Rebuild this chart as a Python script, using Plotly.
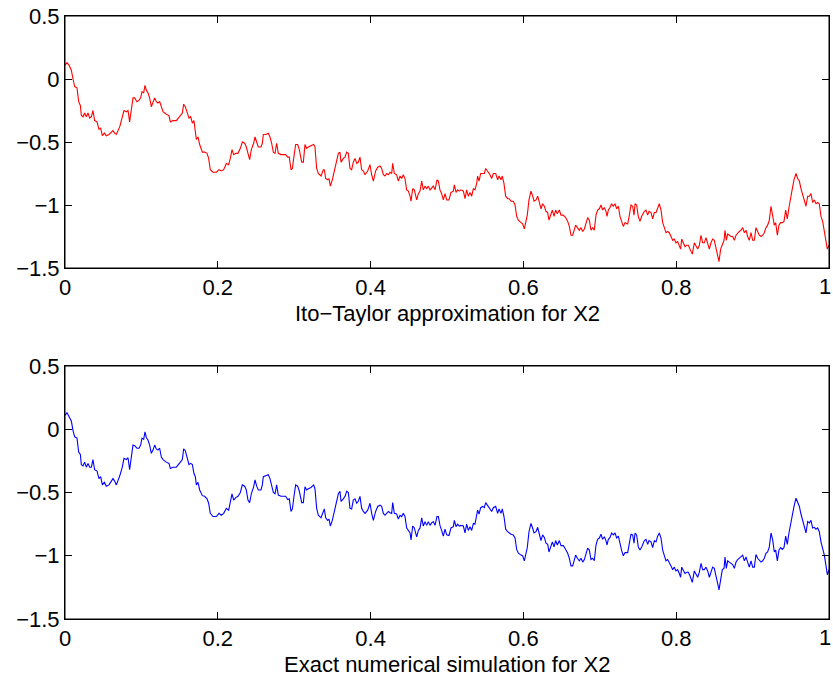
import plotly.graph_objects as go
from plotly.subplots import make_subplots

# time grid
t = [0.0, 0.0026, 0.0052, 0.0083, 0.0105, 0.0127, 0.0157, 0.0179, 0.0201, 0.0214,
     0.0236, 0.0257, 0.0279, 0.0301, 0.0323, 0.0345, 0.0366, 0.0388, 0.0419, 0.0445,
     0.0467, 0.0489, 0.0515, 0.0541, 0.0576, 0.0606, 0.0628, 0.0650, 0.0672, 0.0716,
     0.0750, 0.0772, 0.0803, 0.0825, 0.0846, 0.0868, 0.0890, 0.0912, 0.0942, 0.0969,
     0.0990, 0.1008, 0.1030, 0.1047, 0.1065, 0.1086, 0.1108, 0.1130, 0.1152, 0.1174,
     0.1195, 0.1217, 0.1239, 0.1261, 0.1283, 0.1326, 0.1361, 0.1379, 0.1414, 0.1457,
     0.1479, 0.1510, 0.1536, 0.1553, 0.1575, 0.1597, 0.1623, 0.1645, 0.1667, 0.1688,
     0.1706, 0.1719, 0.1741, 0.1763, 0.1798, 0.1828, 0.1859, 0.1880, 0.1902, 0.1937,
     0.1981, 0.2016, 0.2046, 0.2077, 0.2112, 0.2142, 0.2164, 0.2186, 0.2208, 0.2234,
     0.2264, 0.2295, 0.2321, 0.2352, 0.2373, 0.2395, 0.2417, 0.2439, 0.2469,
     0.2487, 0.2509, 0.2530, 0.2565, 0.2583, 0.2596, 0.2627, 0.2661, 0.2683, 0.2705,
     0.2727, 0.2749, 0.2770, 0.2792, 0.2827, 0.2858, 0.2888, 0.2915, 0.2936, 0.2958,
     0.2976, 0.3002, 0.3019, 0.3045, 0.3067, 0.3098, 0.3120, 0.3141, 0.3163, 0.3185,
     0.3220, 0.3255, 0.3272, 0.3294, 0.3316, 0.3351, 0.3381, 0.3394, 0.3412, 0.3438,
     0.3456, 0.3473, 0.3499, 0.3534, 0.3556, 0.3578, 0.3599, 0.3613, 0.3643, 0.3665,
     0.3687, 0.3709, 0.3730, 0.3752, 0.3774, 0.3796, 0.3818, 0.3839, 0.3861, 0.3883,
     0.3905, 0.3927, 0.3962, 0.3992, 0.4014, 0.4036, 0.4066, 0.4093, 0.4123, 0.4145,
     0.4167, 0.4189, 0.4210, 0.4232, 0.4254, 0.4276, 0.4289, 0.4311, 0.4341, 0.4363,
     0.4385, 0.4407, 0.4428, 0.4450, 0.4472, 0.4494, 0.4516, 0.4529, 0.4551, 0.4572,
     0.4603, 0.4625, 0.4647, 0.4669, 0.4690, 0.4712, 0.4734, 0.4756, 0.4778, 0.4799,
     0.4821, 0.4843, 0.4869, 0.4887, 0.4908, 0.4930, 0.4952,
     0.4974, 0.4996, 0.5026, 0.5052, 0.5083, 0.5096, 0.5118, 0.5140, 0.5161, 0.5183,
     0.5214, 0.5236, 0.5257, 0.5279, 0.5301, 0.5323, 0.5345, 0.5366, 0.5388, 0.5401,
     0.5419, 0.5441, 0.5467, 0.5489, 0.5506, 0.5532, 0.5563, 0.5585, 0.5606, 0.5637,
     0.5663, 0.5681, 0.5707, 0.5724, 0.5746, 0.5768, 0.5794, 0.5816, 0.5838, 0.5868,
     0.5890, 0.5912, 0.5934, 0.5969, 0.5990, 0.6012, 0.6030, 0.6051, 0.6073, 0.6099,
     0.6117, 0.6139, 0.6165, 0.6187, 0.6209, 0.6230, 0.6252, 0.6274, 0.6296, 0.6318,
     0.6335, 0.6357, 0.6379, 0.6401, 0.6422, 0.6444, 0.6470, 0.6492, 0.6523, 0.6553,
     0.6580, 0.6601, 0.6623, 0.6645, 0.6667, 0.6684, 0.6706, 0.6732, 0.6754, 0.6776,
     0.6798, 0.6819, 0.6841, 0.6863, 0.6885, 0.6907, 0.6928, 0.6950, 0.6972, 0.6994,
     0.7016, 0.7037, 0.7059, 0.7081, 0.7094, 0.7112, 0.7134, 0.7155, 0.7177, 0.7199,
     0.7221, 0.7243, 0.7264, 0.7286, 0.7308, 0.7330, 0.7365, 0.7387, 0.7408, 0.7430,
     0.7448,
     0.7461, 0.7482, 0.7504, 0.7526, 0.7548, 0.7583, 0.7605, 0.7627, 0.7644, 0.7670,
     0.7692, 0.7714, 0.7736, 0.7757, 0.7779, 0.7801, 0.7823, 0.7845, 0.7866, 0.7888,
     0.7910, 0.7932, 0.7954, 0.7975, 0.7997, 0.8019, 0.8041, 0.8058, 0.8072, 0.8093,
     0.8115, 0.8137, 0.8159, 0.8181, 0.8211, 0.8237, 0.8259, 0.8281, 0.8303, 0.8325,
     0.8346, 0.8368, 0.8390, 0.8412, 0.8434, 0.8455, 0.8477, 0.8499, 0.8521, 0.8543,
     0.8560, 0.8582, 0.8604, 0.8626, 0.8639, 0.8656, 0.8674, 0.8695, 0.8717, 0.8739,
     0.8761, 0.8783, 0.8805, 0.8826, 0.8848, 0.8870, 0.8892, 0.8914, 0.8935, 0.8957,
     0.8979, 0.9001, 0.9023, 0.9044, 0.9066, 0.9088, 0.9110, 0.9132, 0.9153, 0.9175,
     0.9197, 0.9219, 0.9241, 0.9263, 0.9284, 0.9302, 0.9324, 0.9345, 0.9367, 0.9389,
     0.9411, 0.9433, 0.9454, 0.9476, 0.9498, 0.9520, 0.9542, 0.9568, 0.9590, 0.9612,
     0.9633, 0.9655, 0.9677, 0.9699, 0.9721, 0.9743, 0.9764, 0.9786, 0.9808, 0.9830,
     0.9852, 0.9873, 0.9895, 0.9917, 0.9939, 0.9961, 0.9978, 1.0]

# X2 from the Ito-Taylor approximation (top panel)
x2_ito = [0.11, 0.13, 0.11, 0.07, 0.00, -0.06, -0.07, -0.18, -0.21, -0.29,
          -0.30, -0.27, -0.30, -0.27, -0.31, -0.30, -0.25, -0.33, -0.34, -0.40,
          -0.39, -0.45, -0.43, -0.45, -0.44, -0.42, -0.41, -0.43, -0.44, -0.38,
          -0.31, -0.25, -0.26, -0.25, -0.34, -0.23, -0.15, -0.15, -0.18, -0.17,
          -0.15, -0.10, -0.11, -0.05, -0.09, -0.11, -0.15, -0.22, -0.19, -0.15,
          -0.18, -0.19, -0.18, -0.23, -0.26, -0.28, -0.29, -0.34, -0.33, -0.33,
          -0.31, -0.29, -0.27, -0.20, -0.22, -0.27, -0.31, -0.30, -0.35, -0.33,
          -0.40, -0.48, -0.46, -0.52, -0.58, -0.58, -0.59, -0.63, -0.72, -0.74,
          -0.74, -0.72, -0.73, -0.72, -0.67, -0.68, -0.63, -0.56, -0.60, -0.59,
          -0.59, -0.55, -0.50, -0.51, -0.54, -0.60, -0.64, -0.56, -0.51,
          -0.46, -0.50, -0.54, -0.54, -0.51, -0.44, -0.44, -0.43, -0.46, -0.51,
          -0.58, -0.59, -0.51, -0.59, -0.60, -0.60, -0.60, -0.62, -0.62, -0.72,
          -0.71, -0.59, -0.52, -0.52, -0.56, -0.66, -0.66, -0.52, -0.55, -0.54,
          -0.53, -0.52, -0.54, -0.71, -0.75, -0.77, -0.72, -0.72, -0.79, -0.80,
          -0.79, -0.85, -0.80, -0.71, -0.64, -0.59, -0.58, -0.66, -0.63, -0.62,
          -0.58, -0.59, -0.71, -0.72, -0.66, -0.63, -0.67, -0.66, -0.62, -0.72,
          -0.73, -0.76, -0.73, -0.68, -0.76, -0.81, -0.73, -0.70, -0.69, -0.71,
          -0.76, -0.77, -0.75, -0.76, -0.74, -0.75, -0.67, -0.75, -0.76, -0.81,
          -0.77, -0.79, -0.76, -0.79, -0.88, -0.89, -0.93, -0.97, -0.87, -0.88,
          -0.96, -0.91, -0.89, -0.81, -0.88, -0.85, -0.87, -0.85, -0.88, -0.86,
          -0.85, -0.88, -0.80, -0.81, -0.88, -0.91, -0.96,
          -0.91, -0.96, -0.96, -0.90, -0.89, -0.84, -0.90, -0.88, -0.89, -0.88,
          -0.89, -0.95, -0.88, -0.93, -0.90, -0.93, -0.87, -0.88, -0.83, -0.77,
          -0.81, -0.75, -0.75, -0.75, -0.71, -0.73, -0.76, -0.79, -0.75, -0.75,
          -0.80, -0.77, -0.80, -0.77, -0.83, -0.93, -0.95, -0.95, -0.97, -0.97,
          -1.00, -1.09, -1.12, -1.14, -1.15, -1.19, -1.13, -1.08, -0.96, -0.89,
          -0.92, -0.97, -0.96, -0.93, -0.98, -1.03, -0.99, -1.01, -1.05, -1.06,
          -1.12, -1.08, -1.04, -1.09, -1.04, -1.07, -1.04, -1.08, -1.08, -1.10,
          -1.13, -1.17, -1.24, -1.24, -1.20, -1.16, -1.18, -1.20, -1.18, -1.21,
          -1.19, -1.14, -1.10, -1.12, -1.20, -1.18, -1.20, -1.08, -1.04, -1.03,
          -1.00, -1.04, -1.02, -1.05, -1.09, -1.04, -1.02, -0.99, -1.01, -0.99,
          -1.03, -1.01, -1.09, -1.13, -1.17, -1.14, -1.15, -1.08, -1.00, -1.01,
          -1.08,
          -0.99, -1.00, -1.09, -1.13, -1.09, -1.05, -1.04, -1.08, -1.05, -1.06,
          -1.11, -1.06, -1.06, -1.02, -0.99, -1.04, -1.14, -1.18, -1.22, -1.21,
          -1.22, -1.25, -1.28, -1.27, -1.30, -1.29, -1.32, -1.35, -1.27, -1.30,
          -1.33, -1.32, -1.32, -1.35, -1.39, -1.30, -1.33, -1.35, -1.32, -1.24,
          -1.30, -1.30, -1.26, -1.30, -1.35, -1.30, -1.27, -1.28, -1.34, -1.41,
          -1.45, -1.35, -1.31, -1.28, -1.20, -1.28, -1.23, -1.24, -1.25, -1.25,
          -1.28, -1.24, -1.22, -1.21, -1.20, -1.18, -1.22, -1.20, -1.25, -1.28,
          -1.22, -1.28, -1.28, -1.18, -1.21, -1.24, -1.25, -1.24, -1.22, -1.18,
          -1.16, -1.12, -1.01, -1.08, -1.16, -1.14, -1.24, -1.16, -1.14, -1.14,
          -1.13, -1.04, -1.11, -1.02, -0.93, -0.87, -0.80, -0.75, -0.79, -0.81,
          -0.87, -0.92, -0.97, -1.01, -0.93, -0.93, -0.91, -0.98, -0.96, -0.99,
          -0.98, -0.99, -1.09, -1.13, -1.21, -1.30, -1.35, -1.32]

# X2 from the exact numerical simulation (bottom panel)
x2_exact = [0.11, 0.13, 0.10, 0.065, -0.01, -0.06, -0.07, -0.18, -0.20, -0.28,
            -0.29, -0.26, -0.30, -0.27, -0.30, -0.30, -0.24, -0.32, -0.33, -0.39,
            -0.375, -0.44, -0.42, -0.45, -0.44, -0.41, -0.39, -0.41, -0.44, -0.37,
            -0.30, -0.23, -0.24, -0.225, -0.32, -0.22, -0.125, -0.13, -0.15, -0.15,
            -0.125, -0.07, -0.08, -0.02, -0.067, -0.085, -0.125, -0.19, -0.165, -0.125,
            -0.155, -0.165, -0.15, -0.22, -0.24, -0.26, -0.27, -0.31, -0.30, -0.30,
            -0.28, -0.26, -0.24, -0.155, -0.17, -0.23, -0.28, -0.27, -0.28, -0.35,
            -0.375, -0.44, -0.42, -0.48, -0.525, -0.53, -0.55, -0.585, -0.665, -0.69,
            -0.69, -0.665, -0.68, -0.665, -0.625, -0.64, -0.585, -0.51, -0.56, -0.54,
            -0.53, -0.50, -0.44, -0.45, -0.48, -0.56, -0.58, -0.51, -0.455,
            -0.40, -0.45, -0.48, -0.48, -0.44, -0.375, -0.37, -0.36, -0.39, -0.44,
            -0.50, -0.51, -0.44, -0.52, -0.53, -0.53, -0.53, -0.555, -0.55, -0.65,
            -0.63, -0.51, -0.44, -0.45, -0.49, -0.58, -0.58, -0.455, -0.48, -0.47,
            -0.46, -0.44, -0.47, -0.625, -0.68, -0.70, -0.64, -0.63, -0.70, -0.72,
            -0.71, -0.765, -0.72, -0.625, -0.56, -0.51, -0.49, -0.57, -0.55, -0.53,
            -0.49, -0.50, -0.625, -0.63, -0.56, -0.55, -0.585, -0.57, -0.53, -0.625,
            -0.65, -0.665, -0.64, -0.585, -0.665, -0.72, -0.65, -0.61, -0.60, -0.61,
            -0.665, -0.68, -0.665, -0.65, -0.66, -0.665, -0.58, -0.665, -0.67, -0.71,
            -0.68, -0.69, -0.665, -0.69, -0.78, -0.80, -0.82, -0.875, -0.765, -0.78,
            -0.85, -0.80, -0.78, -0.70, -0.765, -0.73, -0.76, -0.73, -0.76, -0.74,
            -0.73, -0.76, -0.69, -0.69, -0.76, -0.80, -0.845,
            -0.79, -0.835, -0.84, -0.78, -0.77, -0.72, -0.77, -0.75, -0.765, -0.76,
            -0.765, -0.82, -0.75, -0.80, -0.77, -0.80, -0.745, -0.75, -0.68, -0.64,
            -0.67, -0.62, -0.61, -0.62, -0.58, -0.60, -0.63, -0.65, -0.62, -0.61,
            -0.665, -0.63, -0.665, -0.63, -0.69, -0.79, -0.81, -0.82, -0.83, -0.835,
            -0.86, -0.95, -0.98, -0.995, -1.00, -1.04, -0.98, -0.935, -0.81, -0.745,
            -0.775, -0.82, -0.81, -0.775, -0.83, -0.88, -0.835, -0.855, -0.90, -0.91,
            -0.97, -0.92, -0.89, -0.93, -0.88, -0.915, -0.88, -0.92, -0.92, -0.95,
            -0.98, -1.02, -1.08, -1.08, -1.03, -0.995, -1.02, -1.04, -1.02, -1.05,
            -1.03, -0.985, -0.94, -0.955, -1.03, -1.02, -1.04, -0.915, -0.87, -0.86,
            -0.83, -0.87, -0.85, -0.88, -0.915, -0.87, -0.855, -0.82, -0.835, -0.82,
            -0.86, -0.845, -0.915, -0.96, -1.00, -0.975, -0.975, -0.91, -0.83, -0.835,
            -0.90,
            -0.82, -0.835, -0.93, -0.955, -0.93, -0.88, -0.87, -0.91, -0.88, -0.89,
            -0.935, -0.88, -0.89, -0.845, -0.82, -0.86, -0.955, -1.00, -1.04, -1.03,
            -1.05, -1.08, -1.11, -1.09, -1.12, -1.11, -1.14, -1.17, -1.09, -1.12,
            -1.14, -1.13, -1.13, -1.16, -1.21, -1.12, -1.15, -1.17, -1.13, -1.06,
            -1.11, -1.11, -1.09, -1.12, -1.17, -1.12, -1.09, -1.10, -1.15, -1.22,
            -1.27, -1.17, -1.11, -1.10, -1.01, -1.10, -1.04, -1.05, -1.06, -1.07,
            -1.10, -1.05, -1.03, -1.02, -1.01, -0.995, -1.04, -1.01, -1.05, -1.09,
            -1.04, -1.09, -1.09, -0.99, -1.02, -1.04, -1.05, -1.04, -1.02, -0.98,
            -0.97, -0.93, -0.82, -0.875, -0.97, -0.955, -1.04, -0.955, -0.935, -0.95,
            -0.935, -0.845, -0.91, -0.82, -0.74, -0.68, -0.61, -0.545, -0.58, -0.61,
            -0.67, -0.72, -0.77, -0.82, -0.73, -0.74, -0.72, -0.78, -0.775, -0.79,
            -0.78, -0.81, -0.89, -0.935, -0.995, -1.08, -1.15, -1.11]

assert len(t) == len(x2_ito) == len(x2_exact), (len(t), len(x2_ito), len(x2_exact))

x_ticks = [0, 0.2, 0.4, 0.6, 0.8, 1]
x_ticktext = ["0", "0.2", "0.4", "0.6", "0.8", ""]   # last label placed separately (edge)
y_ticks = [0.5, 0, -0.5, -1, -1.5]
x_range = [0, 1]
y_range = [-1.5, 0.5]
x_labels = ["Ito\u2212Taylor approximation for X2", "Exact numerical simulation for X2"]

W, H = 833, 684
ML, MR, MT, MB = 65, 4, 16, 65
plot_h = H - MT - MB
FONT = "Liberation Sans, Arial, Helvetica, sans-serif"

def yfrac(py):
    return (H - MB - py) / plot_h

fig = make_subplots(rows=2, cols=1)
fig.add_trace(go.Scatter(x=t, y=x2_ito, mode="lines",
                         line=dict(color="#ff0000", width=1.1), showlegend=False), row=1, col=1)
fig.add_trace(go.Scatter(x=t, y=x2_exact, mode="lines",
                         line=dict(color="#0000ff", width=1.1), showlegend=False), row=2, col=1)

axis_common = dict(showline=True, linecolor="black", linewidth=1, mirror="ticks",
                   ticks="inside", ticklen=7, tickwidth=1, tickcolor="black",
                   showgrid=False, zeroline=False, automargin=False,
                   tickfont=dict(family=FONT, size=22, color="black"))

top_dom = [yfrac(268), 1.0]
bot_dom = [0.0, yfrac(366)]

fig.update_layout(
    width=W, height=H,
    margin=dict(l=ML, r=MR, t=MT, b=MB, autoexpand=False),
    paper_bgcolor="white", plot_bgcolor="white",
    xaxis=dict(domain=[0, 1], range=x_range, tickvals=x_ticks, ticktext=x_ticktext, anchor="y", **axis_common),
    yaxis=dict(domain=top_dom, range=y_range, tickvals=y_ticks, anchor="x", **axis_common),
    xaxis2=dict(domain=[0, 1], range=x_range, tickvals=x_ticks, ticktext=x_ticktext, anchor="y2", **axis_common),
    yaxis2=dict(domain=bot_dom, range=y_range, tickvals=y_ticks, anchor="x2", **axis_common),
)

# axes boxes
for xr, yr in [("x domain", "y domain"), ("x2 domain", "y2 domain")]:
    fig.add_shape(type="rect", xref=xr, yref=yr, x0=0, x1=1, y0=0, y1=1,
                  line=dict(color="black", width=1), fillcolor="rgba(0,0,0,0)", layer="above")

# the "1" tick label at the right edge, nudged inside the page
for xr, yr in [("x", "y domain"), ("x2", "y2 domain")]:
    fig.add_annotation(text=str(x_ticks[-1]), xref=xr, yref=yr, x=x_ticks[-1], y=0,
                       xanchor="center", yanchor="middle", xshift=-4, yshift=-18,
                       showarrow=False, font=dict(family=FONT, size=22, color="black"))

for lbl, py in zip(x_labels, [313, 664]):
    fig.add_annotation(text=lbl, xref="paper", yref="paper", x=0.5, y=yfrac(py),
                       xanchor="center", yanchor="middle", showarrow=False,
                       font=dict(family=FONT, size=22, color="black"))

fig.write_html("out.html", config={"displayModeBar": False},
               post_script="document.body.style.margin='0px';document.body.style.overflow='hidden';")
